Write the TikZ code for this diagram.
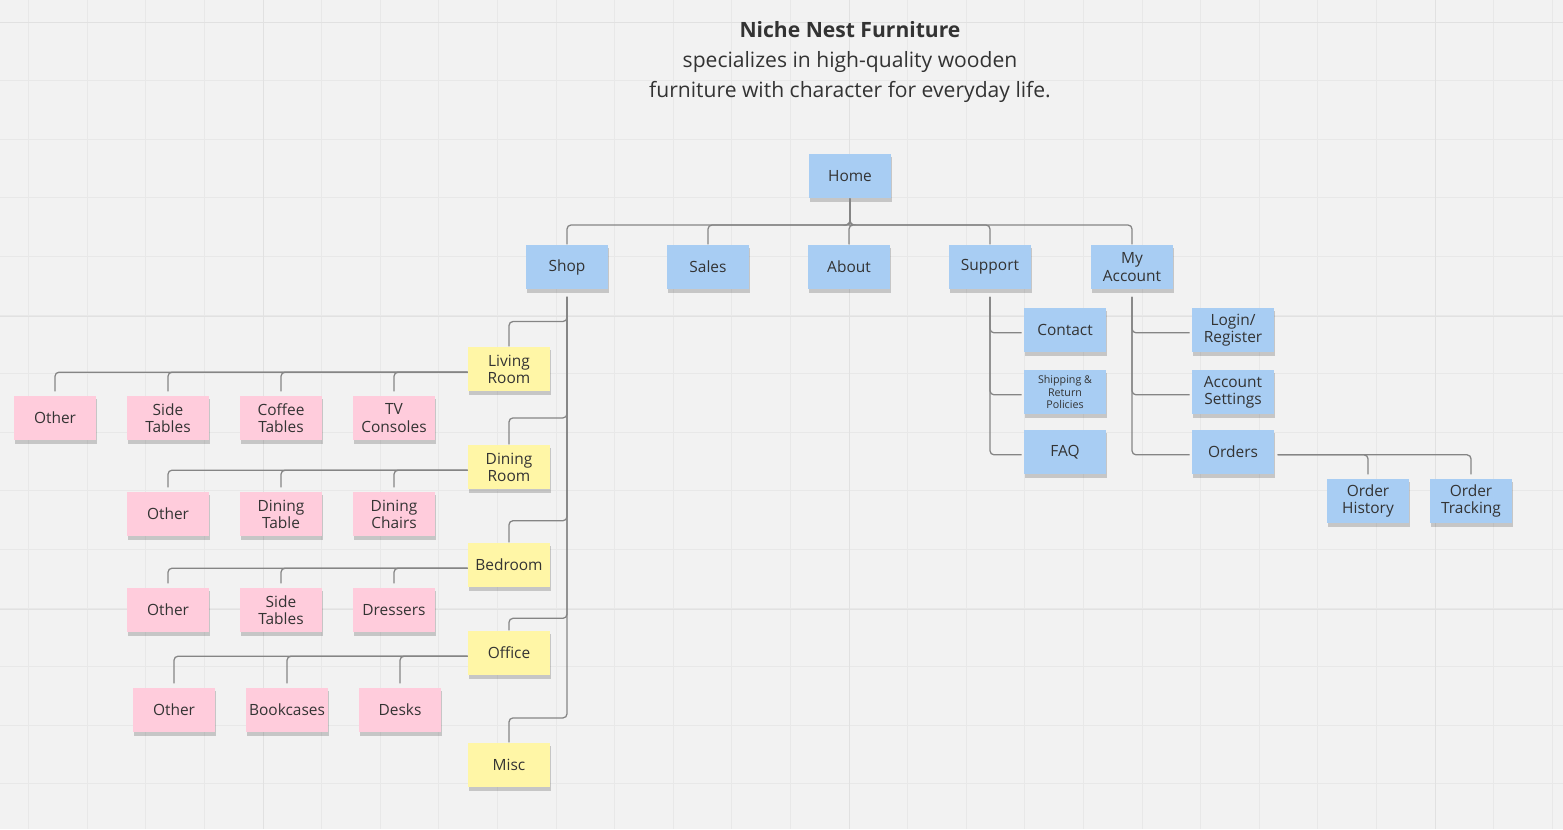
\documentclass[tikz,border=0pt]{standalone}
\usepackage{fontspec}
\setmainfont{Open Sans}
\usetikzlibrary{shadows}
\definecolor{boardbg}{HTML}{F2F2F2}
\definecolor{gridminor}{HTML}{E8E8E8}
\definecolor{gridmajor}{HTML}{E1E1E1}
\definecolor{notetext}{HTML}{333333}
\definecolor{linkgray}{HTML}{858585}
\definecolor{siteblue}{HTML}{A8CDF3}
\definecolor{shopyellow}{HTML}{FFF6A6}
\definecolor{itempink}{HTML}{FFCCDC}

\begin{document}
\begin{tikzpicture}[x=0.025cm,y=-0.025cm]
\tikzset{note/.style={minimum width=2.05cm, minimum height=1.12cm, inner sep=1pt, align=center, text=notetext, font=\fontsize{11}{12.2}\selectfont, drop shadow={shadow xshift=0.03cm, shadow yshift=-0.08cm, opacity=0.18, fill=black}},
  sitenote/.style={note, fill=siteblue},
  shopnote/.style={note, fill=shopyellow},
  itemnote/.style={note, fill=itempink},
  link/.style={draw=linkgray, line width=0.9pt, rounded corners=0.1cm}}
\useasboundingbox (0,0) rectangle (1563,829);
\fill[boardbg] (0,0) rectangle (1563,829);
% board grid
\foreach \i in {0,...,26}
  \draw[gridminor, line width=0.5pt] (28.6+58.6*\i,0) -- (28.6+58.6*\i,829);
\foreach \j in {0,...,13}
  \draw[gridminor, line width=0.5pt] (0,22+58.6*\j) -- (1563,22+58.6*\j);
\foreach \x in {263,849,1435}
  \draw[gridmajor, line width=0.7pt] (\x,0) -- (\x,829);
\foreach \y in {22,316,609}
  \draw[gridmajor, line width=0.7pt] (0,\y) -- (1563,\y);

\node[align=center, text=notetext, font=\fontsize{15}{21.3}\selectfont] (title) at (850,62)
  {\textbf{Niche Nest Furniture}\\specializes in high-quality wooden\\furniture with character for everyday life.};

% main pages
\node[sitenote] (home) at (850,176) {Home};
\node[sitenote] (shop) at (567,267) {Shop};
\node[sitenote] (sales) at (708,267) {Sales};
\node[sitenote] (about) at (849,267) {About};
\node[sitenote] (support) at (990,267) {Support};
\node[sitenote] (account) at (1132,267) {My\\Account};

% support and account pages
\node[sitenote] (contact) at (1065,330) {Contact};
\node[sitenote, font=\fontsize{7.6}{8.6}\selectfont] (shipping) at (1065,392) {Shipping \&\\Return\\Policies};
\node[sitenote] (faq) at (1065,452) {FAQ};
\node[sitenote] (login) at (1233,330) {Login/\\Register};
\node[sitenote] (settings) at (1233,392) {Account\\Settings};
\node[sitenote] (orders) at (1233,452) {Orders};
\node[sitenote] (history) at (1368,501) {Order\\History};
\node[sitenote] (tracking) at (1471,501) {Order\\Tracking};

% shop rooms
\node[shopnote] (living) at (509,369) {Living\\Room};
\node[shopnote] (dining) at (509,467) {Dining\\Room};
\node[shopnote] (bedroom) at (509,565) {Bedroom};
\node[shopnote] (office) at (509,653) {Office};
\node[shopnote] (misc) at (509,765) {Misc};

% room items
\node[itemnote] (lrother) at (55,418) {Other};
\node[itemnote] (lrside) at (168,418) {Side\\Tables};
\node[itemnote] (lrcoffee) at (281,418) {Coffee\\Tables};
\node[itemnote] (lrtv) at (394,418) {TV\\Consoles};
\node[itemnote] (drother) at (168,514) {Other};
\node[itemnote] (drtable) at (281,514) {Dining\\Table};
\node[itemnote] (drchairs) at (394,514) {Dining\\Chairs};
\node[itemnote] (brother) at (168,610) {Other};
\node[itemnote] (brside) at (281,610) {Side\\Tables};
\node[itemnote] (brdress) at (394,610) {Dressers};
\node[itemnote] (ofother) at (174,710) {Other};
\node[itemnote] (ofbook) at (287,710) {Bookcases};
\node[itemnote] (ofdesk) at (400,710) {Desks};

% connectors
\coordinate (homebus) at (850,225);
\foreach \n in {shop,sales,about,support,account}
  \draw[link] (home.south) -- (homebus) -| (\n.north);
\foreach \n/\d in {living/0.62,dining/0.66,bedroom/0.54,office/0.3,misc/0.61}
  \draw[link, shorten <=0.18cm] (shop.south) |- ([yshift=\d cm]\n.north) -- (\n.north);
\foreach \n in {lrother,lrside,lrcoffee,lrtv}
  \draw[link, shorten >=0.1cm] ([yshift=-0.08cm]living.west) -| (\n.north);
\foreach \n in {drother,drtable,drchairs}
  \draw[link, shorten >=0.1cm] ([yshift=-0.08cm]dining.west) -| (\n.north);
\foreach \n in {brother,brside,brdress}
  \draw[link, shorten >=0.1cm] ([yshift=-0.08cm]bedroom.west) -| (\n.north);
\foreach \n in {ofother,ofbook,ofdesk}
  \draw[link, shorten >=0.1cm] ([yshift=-0.08cm]office.west) -| (\n.north);
\foreach \n in {contact,shipping,faq}
  \draw[link, shorten <=0.18cm, shorten >=0.05cm] (support.south) |- ([yshift=-0.07cm]\n.west);
\foreach \n in {login,settings,orders}
  \draw[link, shorten <=0.18cm, shorten >=0.05cm] (account.south) |- ([yshift=-0.07cm]\n.west);
\foreach \n in {history,tracking}
  \draw[link, shorten <=0.08cm, shorten >=0.1cm] ([yshift=-0.07cm]orders.east) -| (\n.north);
\end{tikzpicture}
\end{document}
